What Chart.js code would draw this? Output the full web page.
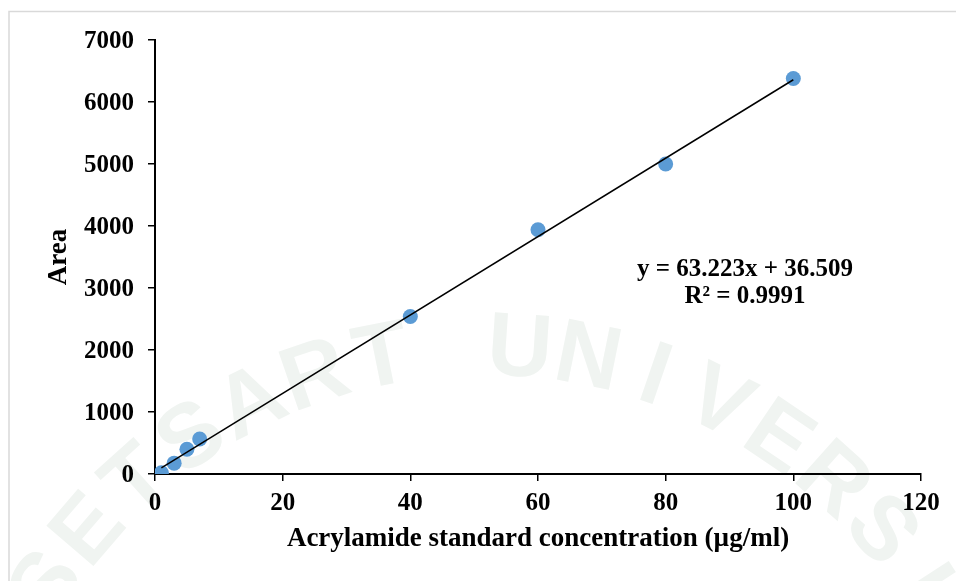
<!DOCTYPE html>
<html>
<head>
<meta charset="utf-8">
<title>Acrylamide standard curve</title>
<script src="https://cdn.jsdelivr.net/npm/chart.js@4.4.1/dist/chart.umd.min.js"></script>
<style>
  html, body { margin: 0; padding: 0; background: #fff; }
  #wrap { width: 956px; height: 581px; position: relative; }
</style>
</head>
<body>
<div id="wrap"><canvas id="curve"></canvas></div>
<script>
// concentrações do padrão (µg/ml) e áreas medidas
const concentrations = [1, 3, 5, 7, 40, 60, 80, 100];
const areas = [20, 175, 400, 565, 2540, 3940, 5000, 6380];

// linha de tendência: y = 63.223x + 36.509, R² = 0.9991
const slope = 63.223;
const intercept = 36.509;
const rSquared = 0.9991;
const trendX = [1, 100];

const xTicks = [0, 20, 40, 60, 80, 100, 120];
const yTicks = [0, 1000, 2000, 3000, 4000, 5000, 6000, 7000];

const watermarkText = 'KASETSART UNIVERSITY';

const serif = "'Liberation Serif', 'Times New Roman', serif";

// moldura cinza e marca d'água ao fundo
const background = {
    id: 'background',
    beforeDraw(chart) {
        const ctx = chart.ctx;
        ctx.save();
        ctx.fillStyle = '#fff';
        ctx.fillRect(0, 0, chart.width, chart.height);

        // marca d'água em arco
        ctx.fillStyle = '#f0f4f1';
        ctx.font = "bold 90px 'Liberation Sans', Arial, sans-serif";
        ctx.textAlign = 'center';
        ctx.textBaseline = 'middle';
        const cx = 485, cy = 870, r = 520, step = 7.6 * Math.PI / 180;
        const mid = (watermarkText.length - 1) / 2;
        for (let i = 0; i < watermarkText.length; i++) {
            const a = (i - mid) * step;
            ctx.save();
            ctx.translate(cx + r * Math.sin(a), cy - r * Math.cos(a));
            ctx.rotate(a);
            ctx.fillText(watermarkText[i], 0, 0);
            ctx.restore();
        }

        ctx.strokeStyle = '#d9d9d9';
        ctx.lineWidth = 1.5;
        ctx.beginPath();
        ctx.moveTo(9, chart.height);
        ctx.lineTo(9, 11.5);
        ctx.lineTo(chart.width, 11.5);
        ctx.stroke();
        ctx.restore();
    }
};

// equação da reta e R²
const equationLabel = {
    id: 'equationLabel',
    afterDatasetsDraw(chart) {
        const ctx = chart.ctx;
        ctx.save();
        ctx.fillStyle = '#000';
        ctx.font = 'bold 25px ' + serif;
        ctx.textAlign = 'center';
        ctx.textBaseline = 'middle';
        ctx.fillText('y = ' + slope.toFixed(3) + 'x + ' + intercept.toFixed(3), 745, 270);
        ctx.fillText('R² = ' + rSquared.toFixed(4), 745, 297);
        ctx.restore();
    }
};

const tickFont = { family: serif, size: 25, weight: 'bold' };
const titleFont = { family: serif, size: 27, weight: 'bold' };

new Chart(document.getElementById('curve'), {
    type: 'scatter',
    data: {
        datasets: [{
            type: 'line',
            label: 'Linear',
            data: trendX.map(x => ({ x: x, y: slope * x + intercept })),
            borderColor: '#000',
            borderWidth: 1.5,
            pointRadius: 0,
            fill: false
        }, {
            label: 'Area',
            data: concentrations.map((c, i) => ({ x: c, y: areas[i] })),
            backgroundColor: '#5b9bd5',
            borderColor: '#5b9bd5',
            pointRadius: 7.5,
            pointBorderWidth: 0
        }]
    },
    options: {
        responsive: true,
        maintainAspectRatio: false,
        animation: false,
        events: [],
        layout: { padding: { left: 0, top: 40, right: 35, bottom: 0 } },
        plugins: {
            legend: { display: false },
            tooltip: { enabled: false }
        },
        scales: {
            x: {
                type: 'linear',
                min: 0,
                max: 120,
                afterFit(scale) { scale.height = 107; },
                afterBuildTicks(scale) { scale.ticks = xTicks.map(v => ({ value: v })); },
                grid: { drawOnChartArea: false, drawTicks: true, tickLength: 7, color: '#000', lineWidth: 1.5 },
                border: { color: '#000', width: 2 },
                ticks: { font: tickFont, color: '#000', padding: 8, maxRotation: 0, callback: v => String(v) },
                title: {
                    display: true,
                    text: 'Acrylamide standard concentration (µg/ml)',
                    font: titleFont,
                    color: '#000',
                    padding: { top: 0, bottom: 26 }
                }
            },
            y: {
                type: 'linear',
                min: 0,
                max: 7000,
                afterFit(scale) { scale.width = 155; },
                afterBuildTicks(scale) { scale.ticks = yTicks.map(v => ({ value: v })); },
                grid: { drawOnChartArea: false, drawTicks: true, tickLength: 7, color: '#000', lineWidth: 1.5 },
                border: { color: '#000', width: 2 },
                ticks: { font: tickFont, color: '#000', padding: 14, labelOffset: 2, callback: v => String(v) },
                title: {
                    display: true,
                    text: 'Area',
                    font: titleFont,
                    color: '#000',
                    padding: { top: 43, bottom: 0 }
                }
            }
        }
    },
    plugins: [background, equationLabel]
});
</script>
</body>
</html>
